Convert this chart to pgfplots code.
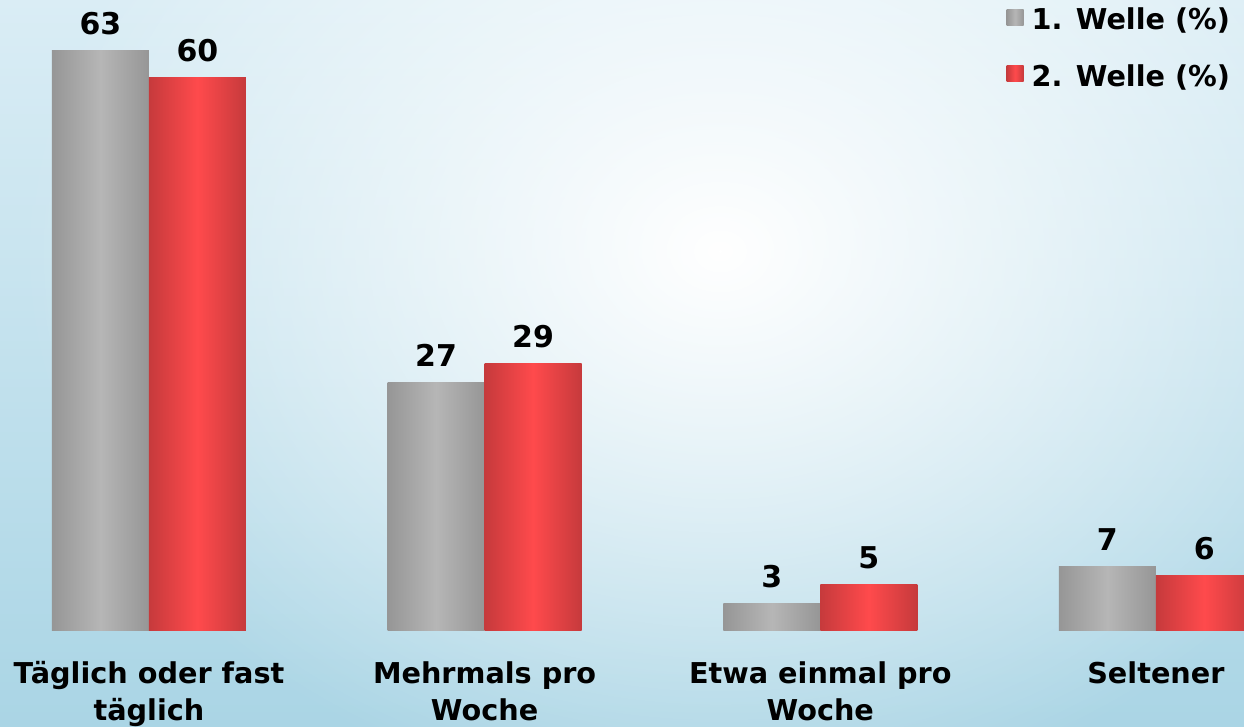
\documentclass[border=0pt]{standalone}
\usepackage{fontspec}
\setmainfont{DejaVu Sans}
\usepackage{pgfplots}
\pgfplotsset{compat=1.18}
\usetikzlibrary{fadings}
\tikzfading[name=softglow, inner color=transparent!0, outer color=transparent!100]
\definecolor{bgtop}{RGB}{218,237,245}
\definecolor{bgbot}{RGB}{170,213,229}
\definecolor{gedge}{RGB}{150,150,150}
\definecolor{gmid}{RGB}{182,182,182}
\definecolor{redge}{RGB}{198,58,60}
\definecolor{rmid}{RGB}{255,74,76}
\newcommand\lblfont{\fontsize{28.7}{37}\selectfont\bfseries}
\newcommand\numfont{\fontsize{30}{36}\selectfont\bfseries}
\pgfplotsset{
  graybar/.style={draw=none, left color=gedge, right color=gedge, middle color=gmid, bar shift=-0.1445,
    legend image code/.code={\shade[left color=gedge,right color=gedge,middle color=gmid] (0pt,-6pt) rectangle (17pt,10.5pt);}},
  redbar/.style={draw=none, left color=redge, right color=redge, middle color=rmid, bar shift=0.1445,
    legend image code/.code={\shade[left color=redge,right color=redge,middle color=rmid] (0pt,-6pt) rectangle (17pt,10.5pt);}},
}
\begin{document}
\begin{tikzpicture}[x=1pt,y=1pt]
\shade[top color=bgtop, bottom color=bgbot] (0,-96) rectangle (1244,631);
\fill[white, path fading=softglow] (720,380) ellipse [x radius=700, y radius=560];
\begin{axis}[
  at={(0,0)}, anchor=south west,
  scale only axis, width=1244pt, height=631pt,
  xmin=-0.4438, xmax=3.2624, ymin=0, ymax=68.44,
  ybar, bar width=0.289,
  axis line style={draw=none}, tick style={draw=none}, major tick length=0pt,
  ytick=\empty,
  xtick={0,1,2,3},
  xticklabels={{Täglich oder fast\\täglich},{Mehrmals pro\\Woche},{Etwa einmal pro\\Woche},{Seltener}},
  xticklabel style={font=\lblfont, align=center, anchor=north, yshift=-27pt},
  /pgf/number format/assume math mode=true,
  nodes near coords,
  every node near coord/.append style={font=\numfont, anchor=base, yshift=16pt, text=black},
  legend style={draw=none, fill=none, font=\lblfont, at={(0.993,0.994)}, anchor=north east, row sep=29pt,
    /tikz/every odd column/.append style={column sep=6pt}},
  legend cell align=left,
]
\addplot[graybar] coordinates {(0,63)};
\addplot[redbar] coordinates {(0,60)};
\addplot[graybar, forget plot] coordinates {(1,27)};
\addplot[redbar, forget plot] coordinates {(1,29)};
\addplot[graybar, forget plot] coordinates {(2,3)};
\addplot[redbar, forget plot] coordinates {(2,5)};
\addplot[graybar, forget plot] coordinates {(3,7)};
\addplot[redbar, forget plot] coordinates {(3,6)};
\legend{1. Welle (\%), 2. Welle (\%)}
\end{axis}
\pgfresetboundingbox
\useasboundingbox (0,-96) rectangle (1244,631);
\end{tikzpicture}
\end{document}
